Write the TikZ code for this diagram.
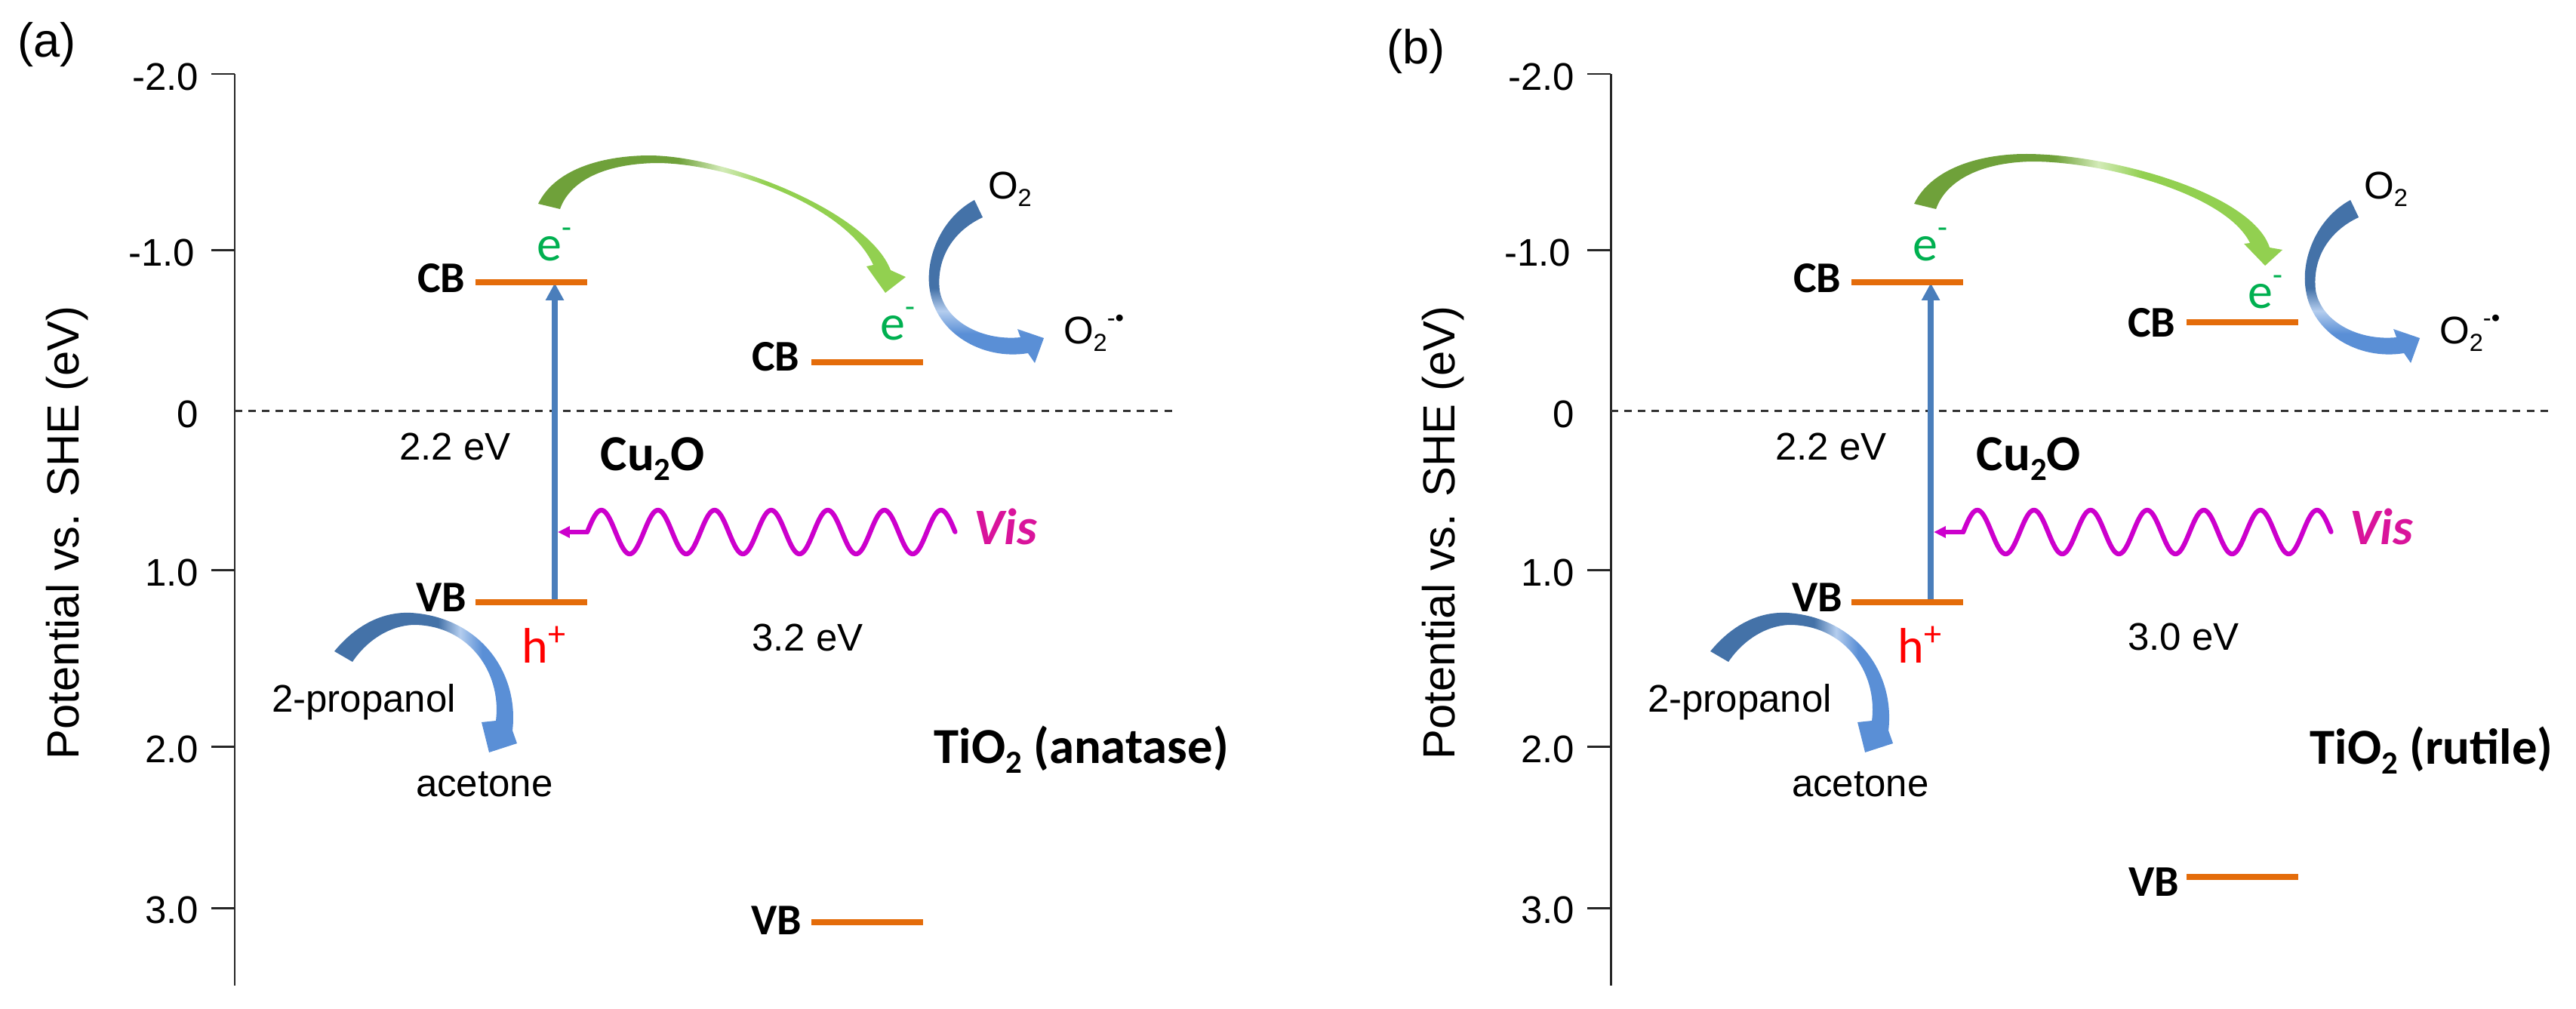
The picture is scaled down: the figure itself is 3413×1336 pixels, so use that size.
\documentclass[tikz,border=0pt]{standalone}
\usepackage{fontspec}
\usepackage{graphicx}
\setmainfont{Liberation Sans}
\newfontfamily\calfont{Carlito}
\usetikzlibrary{arrows.meta}
\newcommand\lowsub[1]{\raisebox{-0.2em}{\scalebox{0.64}{#1}}}
\newcommand\highsup[1]{\raisebox{0.45em}{\scalebox{0.64}{#1}}}
\definecolor{bandor}{HTML}{E46C0A}
\definecolor{vblue}{HTML}{4A7EBB}
\definecolor{wavec}{HTML}{CC00CC}
\definecolor{visc}{HTML}{D9149B}
\definecolor{egreen}{HTML}{00B050}
\definecolor{greenD}{HTML}{6FA13A}
\definecolor{greenW}{HTML}{D3EBB8}
\definecolor{greenL}{HTML}{92D050}
\definecolor{blueD}{HTML}{4472A8}
\definecolor{blueW}{HTML}{B4CDEE}
\definecolor{blueL}{HTML}{5A8FD6}
\definecolor{axisc}{HTML}{262626}
\pgfdeclarehorizontalshading{greenarc}{100bp}{color(0bp)=(greenD); color(44bp)=(greenD); color(50bp)=(greenW); color(56bp)=(greenL); color(100bp)=(greenL)}
\pgfdeclareverticalshading{bluevert}{100bp}{color(0bp)=(blueL); color(34bp)=(blueL); color(41bp)=(blueW); color(48bp)=(blueD); color(100bp)=(blueD)}
\pgfdeclarehorizontalshading{bluehor}{100bp}{color(0bp)=(blueD); color(53bp)=(blueD); color(59bp)=(blueW); color(65bp)=(blueL); color(100bp)=(blueL)}
\tikzset{
  axisline/.style={draw=axisc, line width=0.85pt},
  zeroline/.style={draw=black!80, line width=0.85pt, dash pattern=on 2.85pt off 2.3pt},
  band/.style={draw=bandor, line width=2.3pt},
  excite/.style={draw=vblue, line width=2.1pt, -{Triangle[length=6.5pt,width=6.5pt]}},
  wavy/.style={draw=wavec, line width=1.8pt, line join=round, line cap=round},
  wavearrow/.style={draw=wavec, line width=1.6pt, -{Triangle[length=4.5pt,width=4.2pt]}},
  txt/.style={inner sep=0pt, outer sep=0pt, font=\fontsize{14.5}{17}\selectfont},
  ticklab/.style={txt, anchor=east},
  axtitle/.style={inner sep=0pt, rotate=90, font=\fontsize{17}{20}\selectfont},
  panlab/.style={inner sep=0pt, font=\fontsize{18}{21}\selectfont},
  bandlab/.style={inner sep=0pt, anchor=east, font=\calfont\bfseries\fontsize{16.5}{19}\selectfont},
  matlab/.style={inner sep=0pt, anchor=base west, font=\calfont\bfseries\fontsize{19}{22}\selectfont},
  elab/.style={inner sep=0pt, anchor=base west, text=egreen, font=\calfont\fontsize{18.8}{22}\selectfont},
  hlab/.style={inner sep=0pt, anchor=base west, text=red, font=\calfont\fontsize{18.8}{22}\selectfont},
  vislab/.style={inner sep=0pt, anchor=base west, text=visc, font=\calfont\bfseries\itshape\fontsize{19.3}{22}\selectfont},
}
\newcommand\commonpanel[1]{%
  % axis
  \coordinate (axtop#1) at (311,98);
  \coordinate (axbot#1) at (311,1306);
  \draw[axisline] (axtop#1) -- (axbot#1);
  \foreach \yy in {98,331,755,989,1203}{\draw[axisline] (280,\yy) -- (311,\yy);}
  \node[ticklab] (tkA#1) at (263,102) {-2.0};
  \node[ticklab] (tkB#1) at (258,335) {-1.0};
  \node[ticklab] (tkC#1) at (263,549) {0};
  \node[ticklab] (tkD#1) at (263,759) {1.0};
  \node[ticklab] (tkE#1) at (263,993) {2.0};
  \node[ticklab] (tkF#1) at (263,1206) {3.0};
  \node[axtitle] (ttl#1) at (89,706) {Potential vs. SHE (eV)};
  % zero line
  \coordinate (zA#1) at (311,544);
  \coordinate (zB#1) at (1557,544);
  \draw[zeroline] (zA#1) -- (zB#1);
  % excitation arrow
  \coordinate (exB#1) at (735,798);
  \coordinate (exT#1) at (735,375);
  \draw[excite] (exB#1) -- (exT#1);
  % Cu2O bands
  \coordinate (cbL#1) at (630,374);
  \coordinate (cbR#1) at (778,374);
  \coordinate (vbL#1) at (630,798);
  \coordinate (vbR#1) at (778,798);
  \draw[band] (cbL#1) -- (cbR#1);
  \draw[band] (vbL#1) -- (vbR#1);
  \node[bandlab] (cbt#1) at (617,369) {CB};
  \node[bandlab] (vbt#1) at (619,792) {VB};
  \node[elab] (eC#1) at (711,345) {e\highsup{-}};
  \node[hlab] (hC#1) at (691,878) {h\textsuperscript{+}};
  \node[txt] (gC#1) at (603,592) {2.2 eV};
  \node[matlab] (cu#1) at (795,623) {Cu\lowsub{2}O};
  % light
  \draw[wavy] plot[domain=0:6.5, samples=261] ({778+75*\x},{705-29*sin(360*\x)});
  \coordinate (wv0#1) at (779,705);
  \coordinate (wvA#1) at (739,705);
  \draw[wavearrow] (wv0#1) -- (wvA#1);
  \node[vislab] (vis#1) at (1290,721) {Vis};
  % 2-propanol oxidation
  \shade[shading=bluehor] (443,863) .. controls (470,830) and (505,810) .. (545,812)
     .. controls (635,818) and (688,890) .. (679,968) -- (685,985) -- (648,997) -- (638,957) -- (657,955)
     .. controls (665,890) and (620,828) .. (548,828) .. controls (515,829) and (485,850) .. (467,877) -- cycle;
  \node[txt, anchor=base west] (prop#1) at (360,943) {2-propanol};
  \node[txt, anchor=base west] (acet#1) at (551,1055) {acetone};
  % O2 reduction
  \shade[shading=bluevert] (1291,265) .. controls (1245,290) and (1225,345) .. (1232,385)
     .. controls (1240,440) and (1300,478) .. (1362,468) -- (1371,481) -- (1383,448) -- (1348,436) -- (1352,447)
     .. controls (1300,452) and (1252,425) .. (1245,385) .. controls (1240,340) and (1265,305) .. (1302,288) -- cycle;
  \node[txt, anchor=base west] (otwo#1) at (1309,263) {O\lowsub{2}};
  \node[txt, anchor=base west] (orad#1) at (1409,455) {O\lowsub{2}\highsup{-•}};
}
\begin{document}
\begin{tikzpicture}[x=0.01cm,y=-0.01cm]
\useasboundingbox (0,0) rectangle (3413,1336);
% ---------- panel (a)
\node[panlab] (pa) at (62,59) {(a)};
\commonpanel{a}
\shade[shading=greenarc] (713,270) .. controls (735,225) and (795,207) .. (857,206)
   .. controls (960,205) and (1150,280) .. (1180,358) -- (1200,367) -- (1173,388) -- (1148,353) -- (1157,351)
   .. controls (1120,270) and (960,216) .. (870,216) .. controls (800,217) and (755,240) .. (742,277) -- cycle;
\coordinate (tcbLa) at (1075,480);
\coordinate (tcbRa) at (1223,480);
\coordinate (tvbLa) at (1075,1222);
\coordinate (tvbRa) at (1223,1222);
\draw[band] (tcbLa) -- (tcbRa);
\draw[band] (tvbLa) -- (tvbRa);
\node[bandlab] (tcbta) at (1060,473) {CB};
\node[bandlab] (tvbta) at (1063,1220) {VB};
\node[elab] (eTa) at (1166,450) {e\highsup{-}};
\node[txt] (gTa) at (1070,845) {3.2 eV};
\node[matlab] (tia) at (1237,1011) {TiO\lowsub{2} (anatase)};
% ---------- panel (b)
\node[panlab] (pb) at (1876,68) {(b)};
\begin{scope}[xshift=18.22cm]
\commonpanel{b}
\shade[shading=greenarc] (713,270) .. controls (735,225) and (795,205) .. (857,204)
   .. controls (970,203) and (1160,255) .. (1184,328) -- (1201,331) -- (1178,352) -- (1150,323) -- (1158,322)
   .. controls (1125,255) and (960,214) .. (870,214) .. controls (800,215) and (755,240) .. (742,277) -- cycle;
\end{scope}
\coordinate (tcbLb) at (2897,427);
\coordinate (tcbRb) at (3045,427);
\coordinate (tvbLb) at (2897,1162);
\coordinate (tvbRb) at (3045,1162);
\draw[band] (tcbLb) -- (tcbRb);
\draw[band] (tvbLb) -- (tvbRb);
\node[bandlab] (tcbtb) at (2883,428) {CB};
\node[bandlab] (tvbtb) at (2888,1169) {VB};
\node[elab] (eTb) at (2978,408) {e\highsup{-}};
\node[txt] (gTb) at (2893,844) {3.0 eV};
\node[matlab] (tib) at (3060,1012) {TiO\lowsub{2} (rutile)};
\end{tikzpicture}
\end{document}
